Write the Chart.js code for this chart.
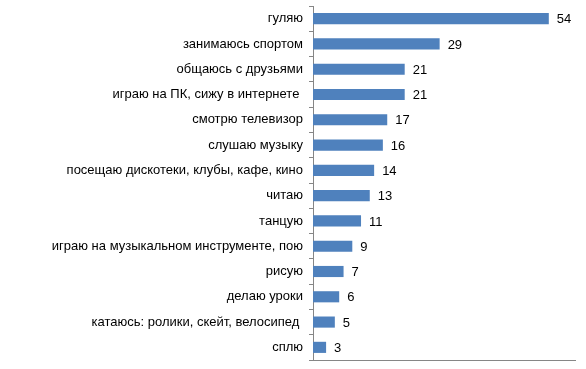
<!DOCTYPE html>
<html>
<head>
<meta charset="utf-8">
<script src="https://cdn.jsdelivr.net/npm/chart.js@4"></script>
<style>
  html, body { margin: 0; padding: 0; background: #fff; }
  #wrap { width: 586px; height: 369px; }
</style>
</head>
<body>
<div id="wrap"><canvas id="myChart"></canvas></div>
<script>
const categories = [
	"гуляю",
	"занимаюсь спортом",
	"общаюсь с друзьями",
	"играю на ПК, сижу в интернете ",
	"смотрю телевизор",
	"слушаю музыку",
	"посещаю дискотеки, клубы, кафе, кино",
	"читаю",
	"танцую",
	"играю на музыкальном инструменте, пою",
	"рисую",
	"делаю уроки",
	"катаюсь: ролики, скейт, велосипед ",
	"сплю"
];
const values = [54, 29, 21, 21, 17, 16, 14, 13, 11, 9, 7, 6, 5, 3];
const xMin = 0;
const xMax = 60;

// подписи значений справа от столбцов
const valueLabels = {
	id: 'valueLabels',
	afterDatasetsDraw(chart) {
		const ctx = chart.ctx;
		const meta = chart.getDatasetMeta(0);
		ctx.save();
		ctx.font = '13px "Liberation Sans", Arial, sans-serif';
		ctx.fillStyle = '#000';
		ctx.textAlign = 'left';
		ctx.textBaseline = 'middle';
		meta.data.forEach((bar, i) => {
			ctx.fillText(values[i], bar.x + 8, bar.y + 1);
		});
		ctx.restore();
	}
};

const ctx = document.getElementById('myChart').getContext('2d');
const myChart = new Chart(ctx, {
	type: 'bar',
	data: {
		labels: categories,
		datasets: [{
			data: values,
			backgroundColor: '#4f81bd',
			borderWidth: 0,
			barPercentage: 0.44,
			categoryPercentage: 1.0
		}]
	},
	options: {
		indexAxis: 'y',
		responsive: true,
		maintainAspectRatio: false,
		animation: false,
		layout: { padding: { top: 6, right: 11, bottom: 9, left: 0 } },
		plugins: {
			legend: { display: false },
			tooltip: { enabled: false }
		},
		scales: {
			x: {
				min: xMin,
				max: xMax,
				ticks: { display: false },
				grid: { display: false },
				border: { display: true, color: '#868686', width: 1 },
				afterFit: s => { s.height = 0; s.paddingLeft = 0; s.paddingRight = 0; }
			},
			y: {
				ticks: {
					color: '#000',
					padding: 6,
					font: { family: '"Liberation Sans", Arial, sans-serif', size: 13 }
				},
				grid: {
					drawOnChartArea: false,
					drawTicks: true,
					tickLength: 4,
					color: '#868686',
					offset: true
				},
				border: { display: true, color: '#868686', width: 1 },
				afterFit: s => { s.width = 313; s.paddingTop = 0; s.paddingBottom = 0; }
			}
		}
	},
	plugins: [valueLabels]
});
</script>
</body>
</html>
